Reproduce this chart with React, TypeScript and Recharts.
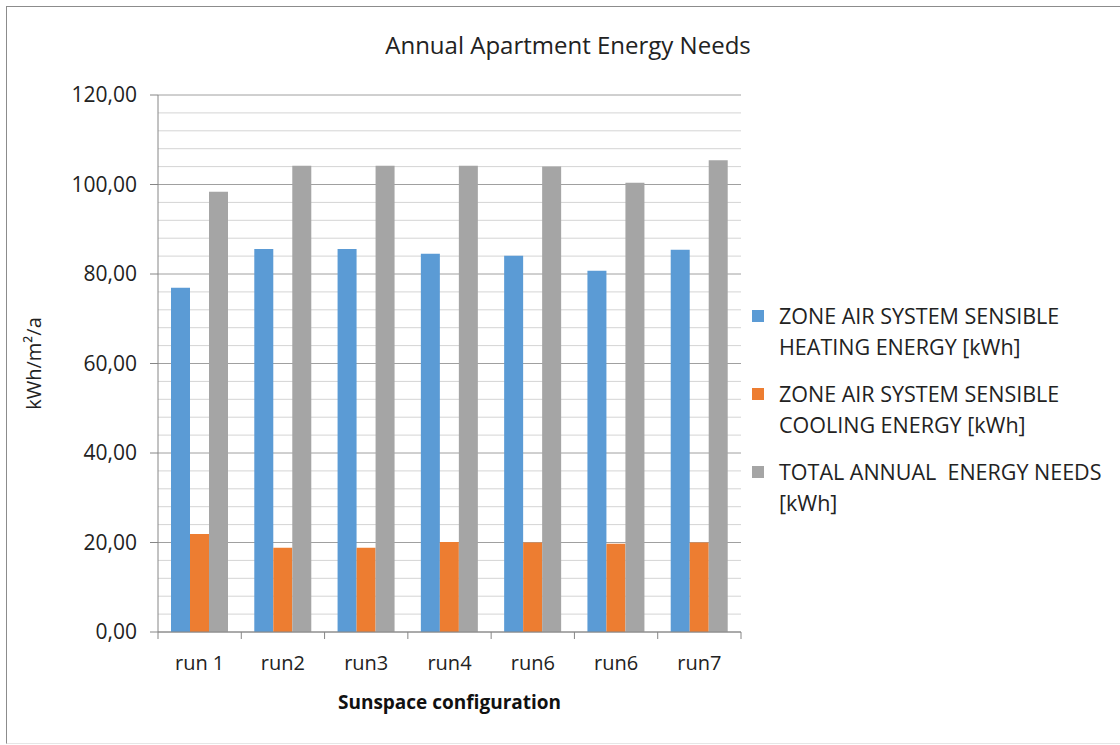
import { BarChart, Bar, XAxis, YAxis, CartesianGrid } from "recharts";

const RUNS = ["run 1", "run2", "run3", "run4", "run6", "run6", "run7"];
const HEATING = [76.9, 85.6, 85.6, 84.5, 84.1, 80.7, 85.4];
const COOLING = [21.9, 18.8, 18.8, 20.1, 20.0, 19.7, 20.0];
const TOTAL = [98.4, 104.2, 104.2, 104.2, 104.0, 100.4, 105.4];

const Y_TICKS = [0, 20, 40, 60, 80, 100, 120];
const MINOR_VALUES = [4, 8, 12, 16, 24, 28, 32, 36, 44, 48, 52, 56, 64, 68, 72, 76, 84, 88, 92, 96, 104, 108, 112, 116];

const SERIES = [
  { key: "heating", name: ["ZONE AIR SYSTEM SENSIBLE", "HEATING ENERGY [kWh]"], color: "#5B9BD5" },
  { key: "cooling", name: ["ZONE AIR SYSTEM SENSIBLE", "COOLING ENERGY [kWh]"], color: "#ED7D31" },
  { key: "total", name: ["TOTAL ANNUAL  ENERGY NEEDS", "[kWh]"], color: "#A5A5A5" },
];

const data = RUNS.map((run, i) => ({
  run,
  heating: HEATING[i],
  cooling: COOLING[i],
  total: TOTAL[i],
}));

const FONT = "'Open Sans', sans-serif";
const AXIS = "#868686";

const fmt = (v: number) => v.toFixed(2).replace(".", ",");

function RunTick(props: any) {
  const { x, y, payload, index } = props;
  const off = payload.offset || 0;
  const left = payload.coordinate - off;
  const right = payload.coordinate + off;
  return (
    <g>
      <line x1={left} x2={left} y1={y} y2={y + 7} stroke={AXIS} />
      {index === RUNS.length - 1 && <line x1={right} x2={right} y1={y} y2={y + 7} stroke={AXIS} />}
      <text x={x} y={y + 38} textAnchor="middle" fill="#222" fontSize={20} fontFamily={FONT}>
        {payload.value}
      </text>
    </g>
  );
}

export default function App() {
  return (
    <div style={{ position: "absolute", left: 0, top: 0, width: 1120, height: 745, background: "#fff", fontFamily: FONT }}>
      <div
        style={{
          position: "absolute",
          left: 6,
          top: 6,
          width: 1130,
          height: 736,
          border: "1px solid #8c8c8c",
          borderBottomColor: "#e6e6e6",
        }}
      />
      <div
        style={{
          position: "absolute",
          left: 0,
          width: 1136,
          top: 28,
          textAlign: "center",
          fontSize: 24,
          color: "#222",
        }}
      >
        Annual Apartment Energy Needs
      </div>
      <div style={{ position: "absolute", left: 0, top: 0 }}>
        <BarChart
          width={1120}
          height={745}
          data={data}
          margin={{ top: 95, right: 379, bottom: 0, left: 20 }}
          barGap={0}
          barSize={19}
        >
          <CartesianGrid horizontalValues={MINOR_VALUES} vertical={false} stroke="#d4d4d4" />
          <CartesianGrid vertical={false} stroke="#a0a0a0" />
          <XAxis
            dataKey="run"
            height={113}
            stroke={AXIS}
            tickLine={false}
            tickSize={0}
            tickMargin={0}
            interval={0}
            tick={<RunTick />}
            label={{
              value: "Sunspace configuration",
              position: "insideBottom",
              offset: 36,
              fontSize: 19,
              fontWeight: 700,
              fill: "#111",
              fontFamily: FONT,
            }}
          />
          <YAxis
            width={138}
            domain={[0, 120]}
            ticks={Y_TICKS}
            interval={0}
            tickFormatter={fmt}
            stroke={AXIS}
            tickSize={8}
            tickMargin={13}
            tick={{ fill: "#222", fontSize: 21, fontFamily: FONT }}
            label={{
              value: "kWh/m²/a",
              angle: -90,
              position: "insideLeft",
              offset: 14,
              fontSize: 20,
              fill: "#222",
              fontFamily: FONT,
              style: { textAnchor: "middle" },
            }}
          />
          {SERIES.map((s) => (
            <Bar key={s.key} dataKey={s.key} fill={s.color} isAnimationActive={false} />
          ))}
        </BarChart>
      </div>
      <div
        style={{
          position: "absolute",
          left: 752,
          top: 300,
          fontSize: 21.5,
          color: "#222",
          lineHeight: "31px",
          whiteSpace: "pre",
        }}
      >
        {SERIES.map((s) => (
          <div key={s.key} style={{ position: "relative", paddingLeft: 27, marginBottom: 16 }}>
            <span
              style={{
                position: "absolute",
                left: 0,
                top: 10,
                width: 12,
                height: 12,
                background: s.color,
              }}
            />
            {s.name.map((line, i) => (
              <div key={i}>{line}</div>
            ))}
          </div>
        ))}
      </div>
    </div>
  );
}
